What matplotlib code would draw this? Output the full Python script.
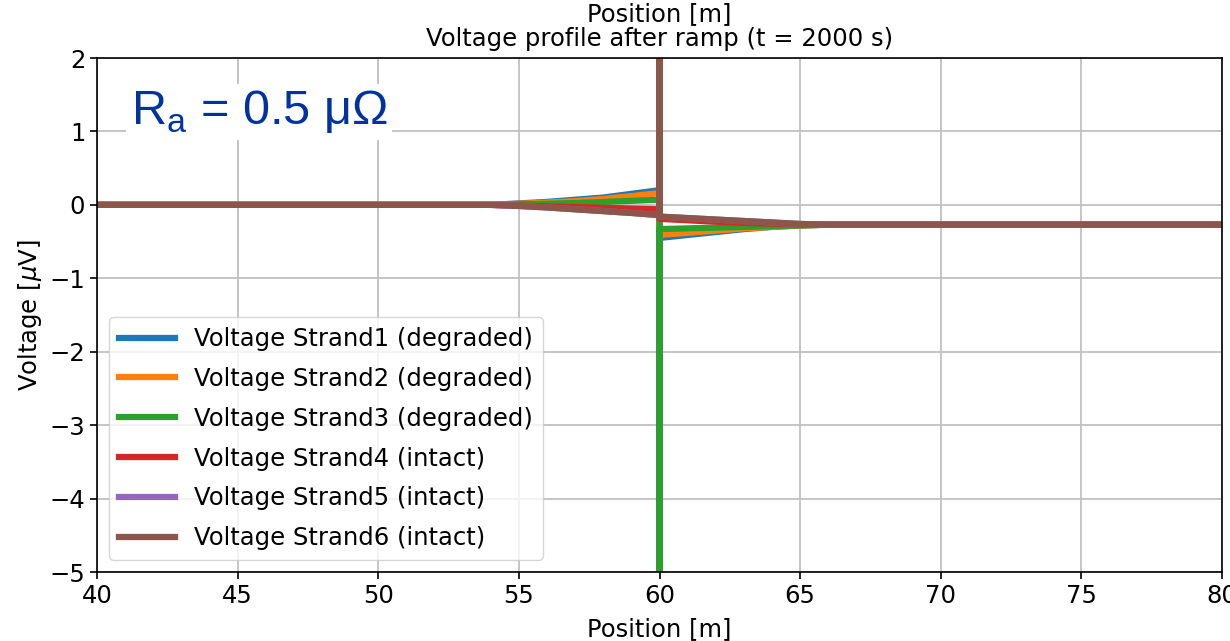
import matplotlib
matplotlib.use("Agg")
import matplotlib.pyplot as plt

# positions along the conductor [m]
x_left = [40, 54, 55, 56, 57, 58, 59, 60]
x_right = [60, 61, 62, 63, 64, 65, 66, 80]

# voltage [uV] before and after the joint at 60 m
v_left = {
    "Strand1": [0, 0, 0.02, 0.04, 0.07, 0.10, 0.15, 0.20],
    "Strand2": [0, 0, 0.015, 0.03, 0.05, 0.08, 0.12, 0.16],
    "Strand3": [0, 0, 0.01, 0.015, 0.025, 0.04, 0.055, 0.07],
    "Strand4": [0, 0, -0.01, -0.02, -0.03, -0.04, -0.05, -0.06],
    "Strand5": [0, 0, -0.015, -0.035, -0.06, -0.085, -0.11, -0.14],
    "Strand6": [0, 0, -0.015, -0.035, -0.06, -0.085, -0.11, -0.14],
}
v_right = {
    "Strand1": [-0.45, -0.41, -0.37, -0.33, -0.30, -0.28, -0.27, -0.27],
    "Strand2": [-0.41, -0.38, -0.35, -0.32, -0.30, -0.28, -0.27, -0.27],
    "Strand3": [-0.33, -0.32, -0.31, -0.30, -0.29, -0.28, -0.27, -0.27],
    "Strand4": [-0.19, -0.21, -0.23, -0.245, -0.255, -0.265, -0.27, -0.27],
    "Strand5": [-0.16, -0.18, -0.20, -0.22, -0.24, -0.26, -0.27, -0.27],
    "Strand6": [-0.16, -0.18, -0.20, -0.22, -0.24, -0.26, -0.27, -0.27],
}
# spike value at the joint (off scale)
v_spike = {"Strand1": 0.2, "Strand2": 0.16, "Strand3": -50,
           "Strand4": -0.06, "Strand5": -0.14, "Strand6": 50}
labels = {
    "Strand1": "Voltage Strand1 (degraded)",
    "Strand2": "Voltage Strand2 (degraded)",
    "Strand3": "Voltage Strand3 (degraded)",
    "Strand4": "Voltage Strand4 (intact)",
    "Strand5": "Voltage Strand5 (intact)",
    "Strand6": "Voltage Strand6 (intact)",
}
colors = ["#1f77b4", "#ff7f0e", "#2ca02c", "#d62728", "#9467bd", "#8c564b"]

fs = 17.5
fig = plt.figure(figsize=(12.3, 6.41), dpi=100)
ax = fig.add_axes([0.0789, 0.1076, 0.9146, 0.8019])

for key, col in zip(v_left, colors):
    xs = x_left + [60] + x_right
    ys = v_left[key] + [v_spike[key]] + v_right[key]
    ax.plot(xs, ys, color=col, lw=4.5, label=labels[key])

ax.set_xlim(40, 80)
ax.set_ylim(-5, 2)
ax.set_xticks(range(40, 81, 5))
ax.set_yticks(range(-5, 3))
ax.grid(True, color="#c0c0c0", lw=1.3)
ax.tick_params(labelsize=fs, length=5, width=1.2)
for s in ax.spines.values():
    s.set_linewidth(1.2)

ax.set_xlabel("Position [m]", fontsize=fs, labelpad=7)
ax.set_ylabel(r"Voltage [$\mu$V]", fontsize=fs, labelpad=4)
ax.set_title("Position [m]\nVoltage profile after ramp (t = 2000 s)", fontsize=fs,
             linespacing=1.0, pad=9)

leg = ax.legend(loc="lower left", fontsize=fs, handlelength=2.3, borderaxespad=0.5,
                labelspacing=0.65, framealpha=0.8)
for h in leg.legend_handles:
    h.set_linewidth(4.5)

ax.text(0.03, 0.895, r"R$_\mathregular{a}$ = 0.5 μΩ", transform=ax.transAxes,
        fontsize=35, color="#0033a0", family="Liberation Sans", va="center",
        bbox=dict(facecolor="white", edgecolor="none", pad=3))

plt.savefig("out.png", dpi=100)
plt.close()
